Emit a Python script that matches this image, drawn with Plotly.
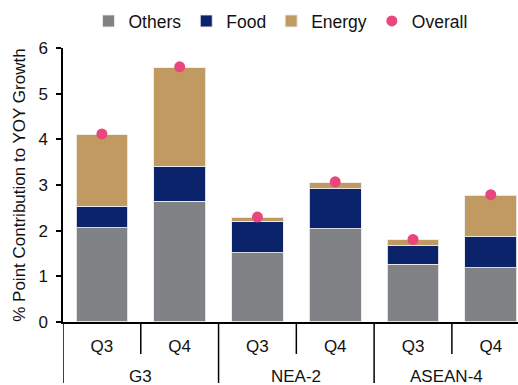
import plotly.graph_objects as go

groups = ["G3", "G3", "NEA-2", "NEA-2", "ASEAN-4", "ASEAN-4"]
quarters = ["Q3", "Q4", "Q3", "Q4", "Q3", "Q4"]
others = [2.06, 2.65, 1.52, 2.04, 1.26, 1.19]
food = [0.48, 0.76, 0.69, 0.88, 0.41, 0.68]
energy = [1.56, 2.16, 0.09, 0.13, 0.13, 0.91]
overall = [4.12, 5.59, 2.30, 3.07, 1.81, 2.79]

W, H = 518, 385
ML, MR, MT, MB = 63, 0, 39, 63
PH = H - MT - MB
XMAX = 5.35

xpos = list(range(len(quarters)))
font = "Liberation Sans, Arial, sans-serif"
edge = dict(color="rgba(235,235,235,0.9)", width=1)

fig = go.Figure()
fig.add_trace(go.Bar(x=xpos, y=others, name="Others", marker=dict(color="#808285", line=edge)))
fig.add_trace(go.Bar(x=xpos, y=food, name="Food", marker=dict(color="#0A236B", line=edge)))
fig.add_trace(go.Bar(x=xpos, y=energy, name="Energy", marker=dict(color="#C19A62", line=edge)))
fig.add_trace(go.Scatter(x=xpos, y=overall, name="Overall", mode="markers",
                         marker=dict(color="#E8467C", size=11)))

# axis decorations: separators between quarters and between groups
shapes = []
annotations = []
unique_groups = []
for g in groups:
    if g not in unique_groups:
        unique_groups.append(g)
for g in unique_groups:
    idx = [i for i, gg in enumerate(groups) if gg == g]
    lo, hi = idx[0] - 0.5, idx[-1] + 0.5
    shapes.append(dict(type="line", xref="x", yref="paper", x0=lo, x1=lo, y0=0, y1=-MB / PH,
                       line=dict(color="black", width=1.5)))
    for i in idx[:-1]:
        shapes.append(dict(type="line", xref="x", yref="paper", x0=i + 0.5, x1=i + 0.5,
                           y0=0, y1=-33 / PH, line=dict(color="black", width=1.5)))
    cx = (lo + min(hi, XMAX)) / 2
    annotations.append(dict(text=g, x=cx, y=-56 / PH, xref="x", yref="paper",
                            showarrow=False, xanchor="center", yanchor="middle",
                            font=dict(size=17, color="#111")))

fig.update_layout(
    barmode="stack",
    bargap=0.335,
    width=W, height=H,
    margin=dict(l=ML, r=MR, t=MT, b=MB),
    paper_bgcolor="white", plot_bgcolor="white",
    font=dict(family=font, size=17, color="#111"),
    legend=dict(orientation="h", x=0.478, xanchor="center", y=0.992, yanchor="top",
                yref="container", font=dict(size=17.5), itemwidth=30,
                traceorder="normal"),
    shapes=shapes,
    annotations=annotations,
)
fig.update_xaxes(range=[-0.5, XMAX], tickvals=xpos, ticktext=quarters, showline=True,
                 linecolor="black", linewidth=1.5, ticks="", ticklabelstandoff=8,
                 showgrid=False, zeroline=False, tickfont=dict(size=17))
fig.update_yaxes(range=[0, 6], dtick=1, showline=True, linecolor="black", linewidth=1.5,
                 ticks="outside", ticklen=5, tickcolor="black", tickwidth=1.5,
                 showgrid=False, zeroline=False, ticklabelstandoff=5,
                 tickfont=dict(size=17),
                 title=dict(text="% Point Contribution to YOY Growth", font=dict(size=17), standoff=8))

fig.write_html("out.html")
